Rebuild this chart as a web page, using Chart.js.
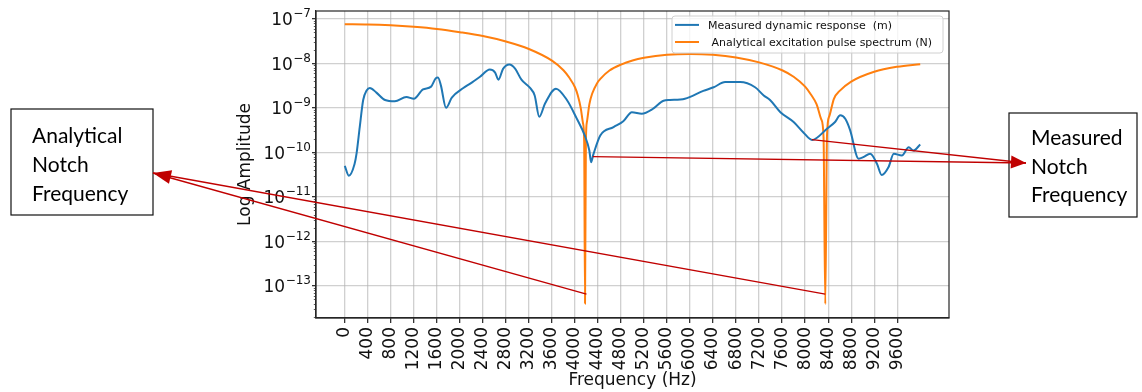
<!DOCTYPE html>
<html>
<head>
<meta charset="utf-8">
<script src="https://cdn.jsdelivr.net/npm/chart.js@4.4.1/dist/chart.umd.min.js"></script>
<style>
  html, body { margin: 0; padding: 0; background: #fff; }
  #wrap { width: 1142px; height: 392px; position: relative; }
</style>
</head>
<body>
<div id="wrap"><canvas id="c" width="1142" height="392"></canvas></div>
<script>
// ---- data ----
const freqTicks = [0, 400, 800, 1200, 1600, 2000, 2400, 2800, 3200, 3600, 4000, 4400, 4800,
                   5200, 5600, 6000, 6400, 6800, 7200, 7600, 8000, 8400, 8800, 9200, 9600];
const decadeExponents = [-13, -12, -11, -10, -9, -8, -7];

const measuredHz = [0, 70, 170, 205, 260, 320, 380, 435, 550, 700, 870, 1070, 1200, 1360, 1500,
  1580, 1620, 1670, 1760, 1860, 2060, 2180, 2350, 2520, 2610, 2670, 2750, 2860, 2960, 3070, 3220,
  3300, 3380, 3480, 3670, 3860, 4030, 4170, 4250, 4280, 4320, 4440, 4670, 4840, 4990, 5160, 5360,
  5540, 5650, 5910, 6230, 6410, 6610, 6870, 7130, 7280, 7390, 7570, 7800, 7970, 8120, 8380, 8520,
  8610, 8700, 8780, 8930, 9010, 9130, 9250, 9330, 9450, 9540, 9680, 9800, 9880, 10000];
const measuredAmp = [5.0e-11, 3.0e-11, 5.5e-11, 9.5e-11, 3.7e-10, 1.5e-9, 2.45e-9, 2.8e-9, 2.2e-9,
  1.5e-9, 1.4e-9, 1.75e-9, 1.6e-9, 2.6e-9, 3.0e-9, 4.6e-9, 4.8e-9, 3.2e-9, 1.0e-9, 1.7e-9, 2.8e-9,
  3.5e-9, 5.0e-9, 7.3e-9, 6.3e-9, 4.3e-9, 7.5e-9, 9.4e-9, 7.6e-9, 4.3e-9, 2.8e-9, 1.9e-9, 6.3e-10,
  1.25e-9, 2.7e-9, 1.5e-9, 5.8e-10, 2.4e-10, 1.1e-10, 6.0e-11, 9.0e-11, 2.4e-10, 3.7e-10, 5.0e-10,
  8.0e-10, 7.4e-10, 9.6e-10, 1.45e-9, 1.5e-9, 1.6e-9, 2.4e-9, 2.9e-9, 3.8e-9, 3.8e-9, 2.9e-9,
  1.9e-9, 1.5e-9, 8.0e-10, 4.8e-10, 2.8e-10, 1.9e-10, 3.4e-10, 4.8e-10, 6.8e-10, 5.6e-10, 3.2e-10,
  7.2e-11, 7.8e-11, 9.3e-11, 5.5e-11, 3.1e-11, 4.7e-11, 9.3e-11, 8.5e-11, 1.3e-10, 1.1e-10, 1.5e-10];

const analyticHz = [0, 400, 800, 1200, 1600, 2000, 2400, 2800, 3200, 3600, 3800, 3900, 4000, 4050,
  4100, 4140, 4160, 4175, 4190, 4210, 4250, 4300, 4380, 4450, 4600, 4800, 5000, 5200, 5600, 6000,
  6400, 6800, 7200, 7600, 7800, 8000, 8100, 8200, 8280, 8320, 8350, 8380, 8420, 8500, 8600, 8800,
  9200, 9600, 10000];
const analyticAmp = [7.6e-8, 7.5e-8, 7.15e-8, 6.6e-8, 5.9e-8, 5.0e-8, 4.1e-8, 3.1e-8, 2.1e-8,
  1.15e-8, 7.0e-9, 4.8e-9, 2.9e-9, 1.9e-9, 1.0e-9, 4.5e-10, 1.8e-10, 4.0e-14, 1.8e-10, 5.0e-10,
  1.2e-9, 2.1e-9, 3.5e-9, 4.6e-9, 6.9e-9, 9.4e-9, 1.16e-8, 1.33e-8, 1.56e-8, 1.63e-8, 1.56e-8,
  1.36e-8, 1.05e-8, 7.0e-9, 5.0e-9, 3.0e-9, 2.0e-9, 1.2e-9, 5.5e-10, 2.2e-10, 3.9e-14, 2.4e-10,
  6.5e-10, 1.6e-9, 2.4e-9, 3.9e-9, 6.5e-9, 8.4e-9, 9.6e-9];

const seriesNames = ['Measured dynamic response  (m)', ' Analytical excitation pulse spectrum (N)'];
const seriesColors = ['#1f77b4', '#ff7f0e'];

// notch points the callout arrows start from (Hz, amplitude)
const analyticNotchPoints = [[4200, 6.5e-14], [8350, 6.5e-14]];
const measuredNotchPoints = [[4310, 8.0e-11], [8117, 1.93e-10]];
const calloutTexts = [['Analytical', 'Notch', 'Frequency'], ['Measured', 'Notch', 'Frequency']];

// ---- drawing ----
const FONT = '"DejaVu Sans", "Liberation Sans", sans-serif';
Chart.defaults.font.family = FONT;
Chart.defaults.color = '#111';

const toPts = (xs, ys) => xs.map((v, i) => ({ x: v, y: ys[i] }));

function arrow(ctx, tip, starts, len, half) {
  ctx.strokeStyle = '#c00000';
  ctx.fillStyle = '#c00000';
  ctx.lineWidth = 1.3;
  let dx = 0, dy = 0;
  starts.forEach(s => {
    ctx.beginPath();
    ctx.moveTo(s[0], s[1]);
    ctx.lineTo(tip[0], tip[1]);
    ctx.stroke();
    const l = Math.hypot(tip[0] - s[0], tip[1] - s[1]);
    dx += (tip[0] - s[0]) / l;
    dy += (tip[1] - s[1]) / l;
  });
  const l = Math.hypot(dx, dy);
  dx /= l; dy /= l;
  const bx = tip[0] - dx * len, by = tip[1] - dy * len;
  ctx.beginPath();
  ctx.moveTo(tip[0], tip[1]);
  ctx.lineTo(bx - dy * half, by + dx * half);
  ctx.lineTo(bx + dy * half, by - dx * half);
  ctx.closePath();
  ctx.fill();
}

function callout(ctx, box, lines, tx, baselines) {
  ctx.fillStyle = '#fff';
  ctx.fillRect(box[0], box[1], box[2], box[3]);
  ctx.strokeStyle = '#111';
  ctx.lineWidth = 1.2;
  ctx.strokeRect(box[0], box[1], box[2], box[3]);
  ctx.fillStyle = '#000';
  ctx.font = '21px Lato, "Open Sans", sans-serif';
  ctx.textAlign = 'left';
  ctx.textBaseline = 'alphabetic';
  lines.forEach((t, i) => ctx.fillText(t, tx, baselines[i]));
}

const decor = {
  id: 'decor',
  afterDraw(chart) {
    const { ctx, chartArea: a, scales: { x, y } } = chart;
    ctx.save();

    // minor log ticks on the left spine
    ctx.strokeStyle = '#333';
    ctx.lineWidth = 0.8;
    for (let e = -14; e <= -7; e++) {
      for (let k = 2; k <= 9; k++) {
        const v = k * Math.pow(10, e);
        if (v < y.min || v > y.max) continue;
        const py = Math.round(y.getPixelForValue(v)) + 0.5;
        ctx.beginPath();
        ctx.moveTo(a.left, py);
        ctx.lineTo(a.left - 2.2, py);
        ctx.stroke();
      }
    }

    // y tick labels: 10 with a raised exponent
    ctx.fillStyle = '#111';
    ctx.textAlign = 'left';
    ctx.textBaseline = 'alphabetic';
    decadeExponents.forEach(e => {
      const py = y.getPixelForValue(Math.pow(10, e));
      const sup = '\u2212' + Math.abs(e);
      ctx.font = '12px ' + FONT;
      const ws = ctx.measureText(sup).width;
      ctx.font = '17px ' + FONT;
      const wb = ctx.measureText('10').width;
      const right = a.left - 5;
      ctx.fillText('10', right - ws - wb - 0.5, py + 6.2);
      ctx.font = '12px ' + FONT;
      ctx.fillText(sup, right - ws, py - 1.5);
    });

    // frame
    ctx.strokeStyle = '#262626';
    ctx.lineWidth = 1.2;
    ctx.strokeRect(a.left, a.top, a.right - a.left, a.bottom - a.top);

    // legend
    const lx = 672, ly = 16, lw = 271, lh = 37;
    ctx.beginPath();
    ctx.roundRect(lx, ly, lw, lh, 3);
    ctx.fillStyle = 'rgba(255,255,255,0.8)';
    ctx.fill();
    ctx.strokeStyle = '#d0d0d0';
    ctx.lineWidth = 1;
    ctx.stroke();
    const rows = [24.9, 42];
    ctx.font = '11px ' + FONT;
    ctx.textBaseline = 'alphabetic';
    seriesNames.forEach((name, i) => {
      ctx.strokeStyle = seriesColors[i];
      ctx.lineWidth = 2;
      ctx.beginPath();
      ctx.moveTo(675, rows[i]);
      ctx.lineTo(699, rows[i]);
      ctx.stroke();
      ctx.fillStyle = '#111';
      ctx.fillText(name, 708, rows[i] + 4);
    });

    // callout boxes and arrows
    callout(ctx, [11, 109, 142, 106], calloutTexts[0], 32, [143, 172, 200.5]);
    callout(ctx, [1009, 113, 128, 104], calloutTexts[1], 1031, [145, 173.5, 202]);
    const px = p => [x.getPixelForValue(p[0]), y.getPixelForValue(p[1])];
    arrow(ctx, [153, 173], analyticNotchPoints.map(px), 18, 7);
    arrow(ctx, [1026, 163], measuredNotchPoints.map(px), 15, 6.5);

    ctx.restore();
  }
};

new Chart(document.getElementById('c'), {
  type: 'line',
  data: {
    datasets: [
      {
        label: seriesNames[0],
        data: toPts(measuredHz, measuredAmp),
        borderColor: seriesColors[0],
        borderWidth: 2,
        pointRadius: 0,
        cubicInterpolationMode: 'monotone',
        fill: false
      },
      {
        label: seriesNames[1],
        data: toPts(analyticHz, analyticAmp),
        borderColor: seriesColors[1],
        borderWidth: 2,
        pointRadius: 0,
        cubicInterpolationMode: 'monotone',
        fill: false
      }
    ]
  },
  options: {
    responsive: false,
    animation: false,
    devicePixelRatio: 1,
    layout: { padding: { left: 231, right: 193, top: 11, bottom: 0 } },
    plugins: { legend: { display: false }, tooltip: { enabled: false } },
    scales: {
      x: {
        type: 'linear',
        min: -500,
        max: 10500,
        afterBuildTicks: s => { s.ticks = freqTicks.map(v => ({ value: v })); },
        afterFit: s => { s.height = 74; },
        grid: { color: 'rgba(176,176,176,0.6)', lineWidth: 1.3, tickColor: '#333', tickLength: 5 },
        border: { display: true, color: '#262626', width: 1.2 },
        ticks: {
          autoSkip: false,
          minRotation: 90,
          maxRotation: 90,
          padding: 4,
          color: '#111',
          font: { size: 17 },
          callback: v => String(v)
        },
        title: { display: true, text: 'Frequency (Hz)', color: '#111', font: { size: 17 },
                 padding: { top: 0, bottom: 1 } }
      },
      y: {
        type: 'logarithmic',
        min: 1.9e-14,
        max: 1.5e-7,
        afterBuildTicks: s => { s.ticks = decadeExponents.map(e => ({ value: Math.pow(10, e) })); },
        afterFit: s => { s.width = 85; },
        grid: { color: 'rgba(176,176,176,0.6)', lineWidth: 1.3, tickColor: '#333', tickLength: 4 },
        border: { display: true, color: '#262626', width: 1.2 },
        ticks: { display: false },
        title: { display: true, text: 'Log Amplitude', color: '#111', font: { size: 17 },
                 padding: { top: 4, bottom: 0 } }
      }
    }
  },
  plugins: [decor]
});
</script>
</body>
</html>
